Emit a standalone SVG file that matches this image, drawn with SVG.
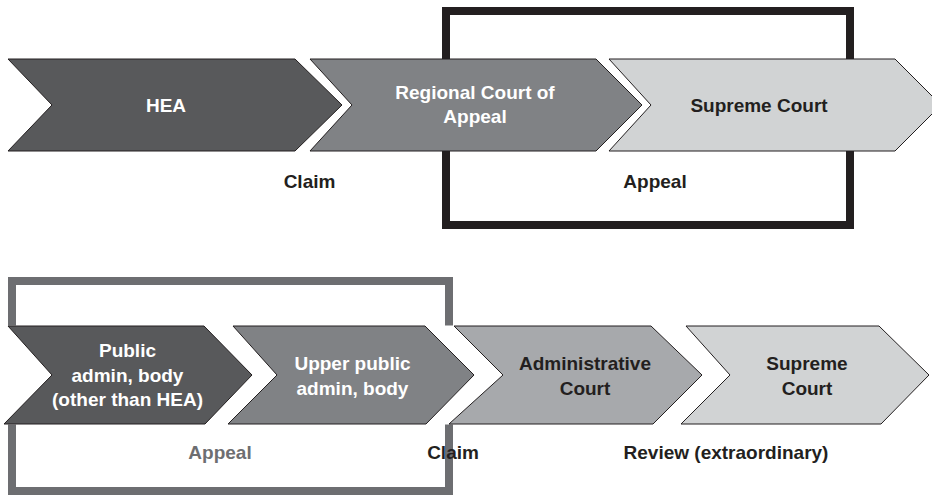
<svg xmlns="http://www.w3.org/2000/svg" width="932" height="495" viewBox="0 0 932 495">
<style>
.chev{stroke:#231f20;stroke-width:1;stroke-linejoin:miter}
.c1{fill:#58595b}.c2{fill:#808285}.c3{fill:#a7a9ac}.c4{fill:#d1d3d4}
text{font-family:"Liberation Sans",Arial,sans-serif;font-weight:bold;font-size:19px;text-anchor:middle}
.w{fill:#ffffff}.d{fill:#231f20}.g{fill:#6d6e71}
</style>
<rect width="932" height="495" fill="#ffffff"/>
<g id="groups">
<rect id="box-top" x="446" y="11" width="404" height="214" fill="none" stroke="#231f20" stroke-width="8"/>
<rect id="box-bottom" x="12" y="281" width="437" height="210" fill="none" stroke="#6d6e71" stroke-width="8"/>
<rect x="0" y="325.5" width="932" height="99" fill="#ffffff"/>
</g>
<g id="connectors"></g>
<g id="hea">
<polygon class="chev c1" points="8,59 295,59 342,105 295,151 8,151 52,105"/>
<text class="w" x="166" y="112">HEA</text>
</g>
<g id="regional-court">
<polygon class="chev c2" points="310,59 596,59 642,105 596,151 310,151 352,105"/>
<text class="w" x="475" y="99">Regional Court of</text>
<text class="w" x="475" y="123">Appeal</text>
</g>
<g id="supreme-court-top">
<polygon class="chev c4" points="609,59 895,59 941,105 895,151 609,151 651,105"/>
<text class="d" x="759" y="112">Supreme Court</text>
</g>
<g id="public-admin">
<polygon class="chev c1" points="8,326 204,326 252,375 205,424 4,424 52,375"/>
<text class="w" x="127.5" y="357">Public</text>
<text class="w" x="127.5" y="382">admin, body</text>
<text class="w" x="127.5" y="406">(other than HEA)</text>
</g>
<g id="upper-public-admin">
<polygon class="chev c2" points="233,326 425,326 474,375 426,424 228,424 277,375"/>
<text class="w" x="352.5" y="370">Upper public</text>
<text class="w" x="352.5" y="395">admin, body</text>
</g>
<g id="administrative-court">
<polygon class="chev c3" points="454,326 651,326 702,375 653,424 449,424 503,375"/>
<text class="d" x="585" y="370">Administrative</text>
<text class="d" x="585" y="395">Court</text>
</g>
<g id="supreme-court-bottom">
<polygon class="chev c4" points="686,326 879,326 929,375 881,424 681,424 730,375"/>
<text class="d" x="807" y="370">Supreme</text>
<text class="d" x="807" y="395">Court</text>
</g>
<g id="labels">
<text class="d" x="309.5" y="188">Claim</text>
<text class="d" x="655" y="188">Appeal</text>
<text class="g" x="220" y="459">Appeal</text>
<text class="d" x="453" y="459">Claim</text>
<text class="d" x="726" y="459">Review (extraordinary)</text>
</g>
</svg>
